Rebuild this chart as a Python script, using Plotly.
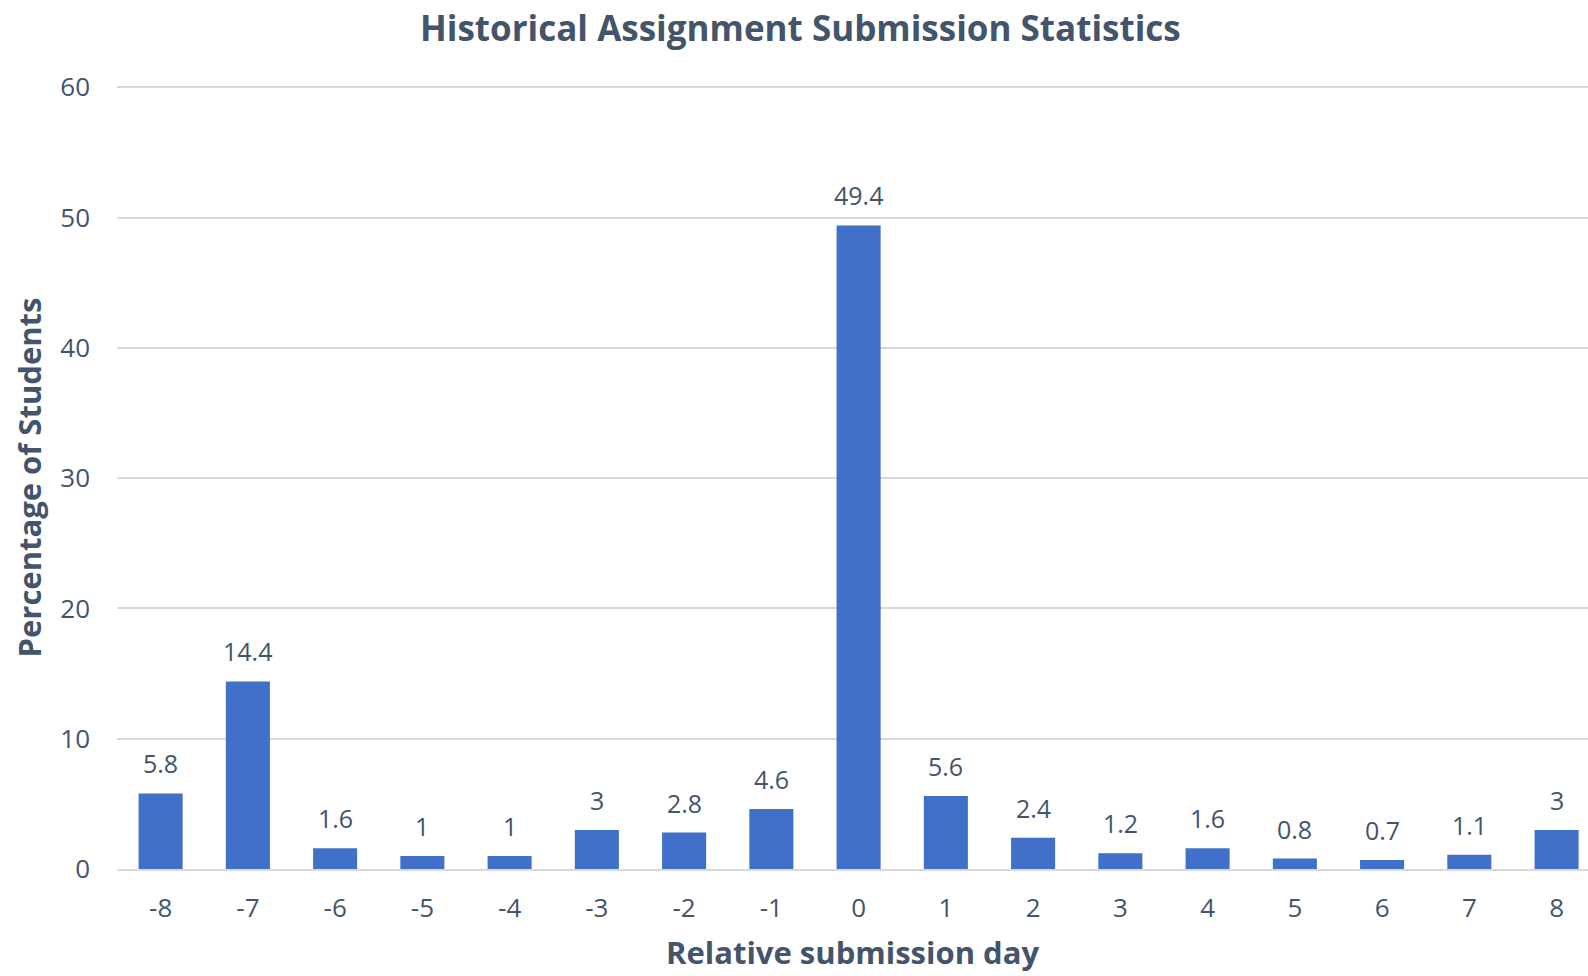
import plotly.graph_objects as go

days = ["-8", "-7", "-6", "-5", "-4", "-3", "-2", "-1", "0", "1", "2", "3", "4", "5", "6", "7", "8"]
percent = [5.8, 14.4, 1.6, 1, 1, 3, 2.8, 4.6, 49.4, 5.6, 2.4, 1.2, 1.6, 0.8, 0.7, 1.1, 3]
y_ticks = [0, 10, 20, 30, 40, 50, 60]

TXT = "#44546A"
FONT = "Open Sans"

fig = go.Figure(go.Bar(
    x=days, y=percent,
    marker=dict(color="#4170C8", line=dict(width=0)),
    hoverinfo="x+y",
))

# value labels above bars (category index positions on the category axis)
for i, v in enumerate(percent):
    fig.add_annotation(x=i, y=v, text=f"{v:g}", showarrow=False,
                       xref="x", yref="y", yanchor="bottom", yshift=11,
                       font=dict(family=FONT, size=25, color=TXT))

fig.update_layout(
    width=1588, height=976,
    paper_bgcolor="white", plot_bgcolor="white",
    margin=dict(l=117, r=0, t=86, b=107, autoexpand=False),
    bargap=0.495,
    showlegend=False,
    title=dict(text="<b>Historical Assignment Submission Statistics</b>",
               x=0.504, xanchor="center", y=0.971, yanchor="middle",
               font=dict(family=FONT, size=35, color=TXT)),
    font=dict(family=FONT, color=TXT),
)
fig.update_xaxes(
    type="category", automargin=False, range=[-0.5, 16.36],
    showgrid=False, showline=True, linecolor="#D9D9D9", linewidth=1.5,
    ticks="", ticklabelstandoff=15,
    tickfont=dict(family=FONT, size=26, color=TXT),
    title=dict(text="<b>Relative submission day</b>", standoff=18,
               font=dict(family=FONT, size=31, color=TXT)),
)
fig.update_yaxes(
    range=[0, 60.1], tickvals=y_ticks, automargin=False,
    showgrid=True, gridcolor="#D9D9D9", gridwidth=1.5,
    zeroline=False, showline=False, ticks="",
    ticklabelstandoff=26,
    tickfont=dict(family=FONT, size=26, color=TXT),
    title=dict(text="<b>Percentage of Students</b>", standoff=9,
               font=dict(family=FONT, size=31, color=TXT)),
)

fig.write_html("out.html", config={"displayModeBar": False},
               post_script="document.body.style.margin='0';document.body.style.overflow='hidden';")
